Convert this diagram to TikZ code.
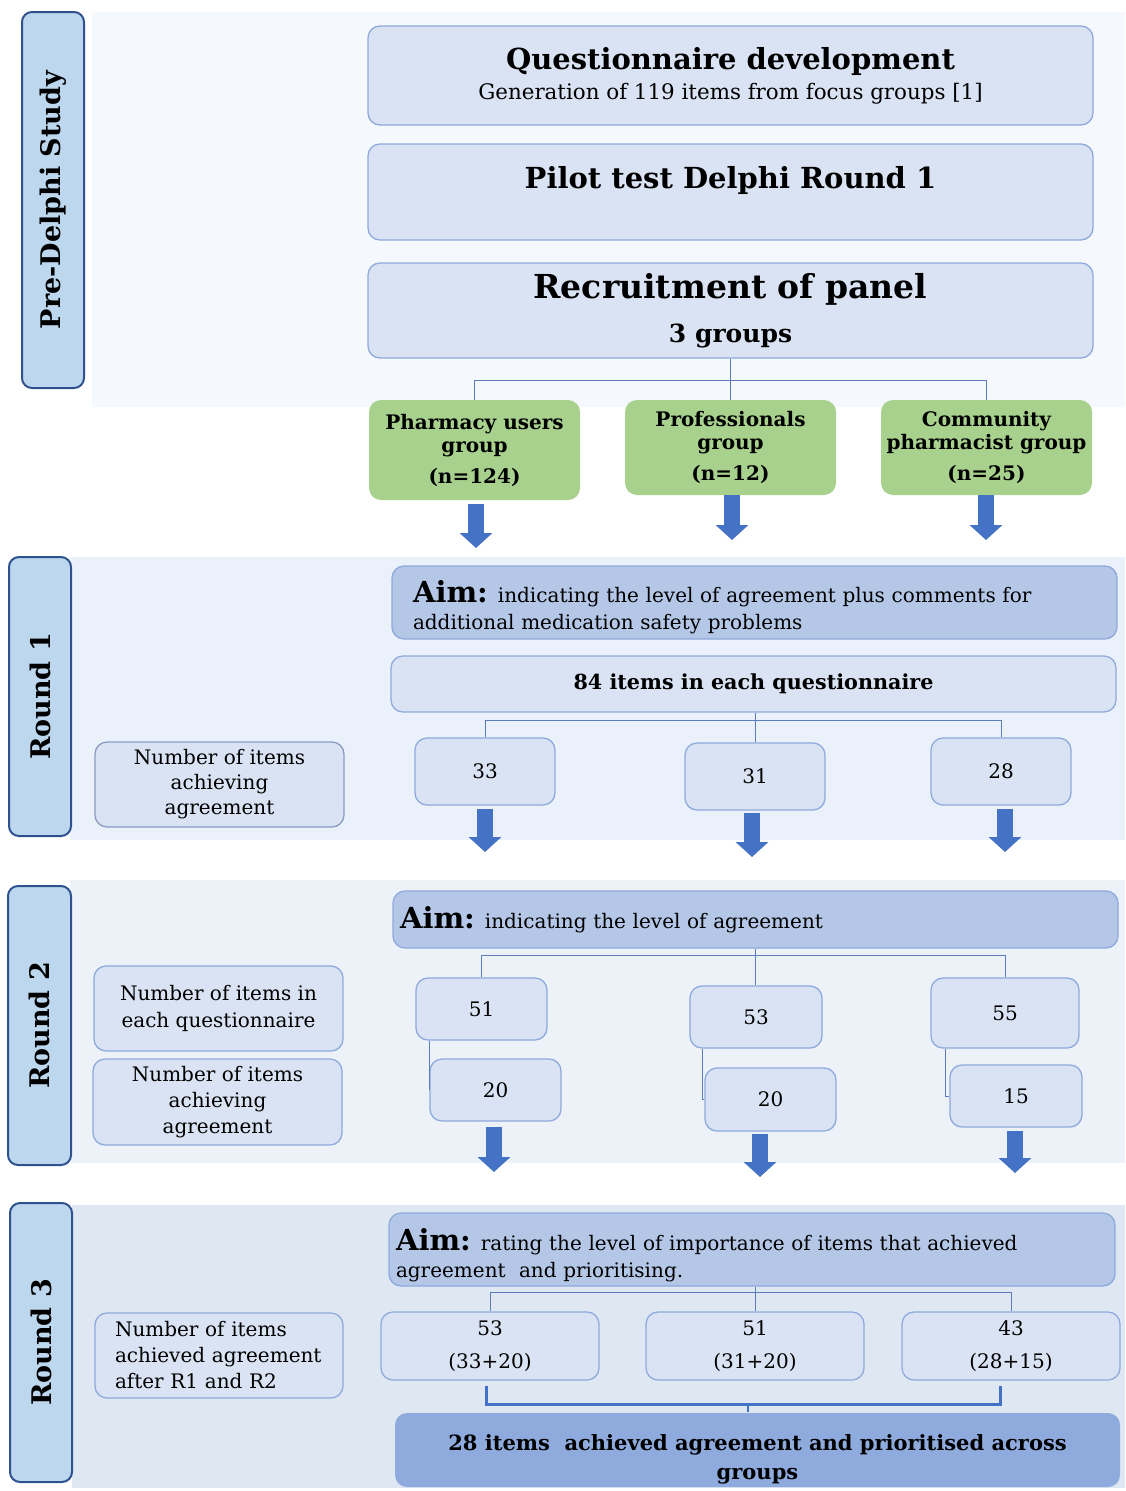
\documentclass[tikz,border=0pt]{standalone}
\usepackage{fontspec}
\setmainfont{DejaVu Serif}
\usetikzlibrary{arrows.meta}

\definecolor{labelfill}{HTML}{BDD7EE}
\definecolor{labelborder}{HTML}{2F528F}
\definecolor{boxfill}{HTML}{DAE3F3}
\definecolor{boxborder}{HTML}{8FAADC}
\definecolor{aimfill}{HTML}{B4C7E7}
\definecolor{groupgreen}{HTML}{A9D18E}
\definecolor{finalfill}{HTML}{8FAADC}
\definecolor{arrowblue}{HTML}{4472C4}
\definecolor{treeline}{HTML}{5B7DB9}
\definecolor{bgpre}{HTML}{F5F8FC}
\definecolor{bgone}{HTML}{EBF1FA}
\definecolor{bgtwo}{HTML}{EDF1F8}
\definecolor{bgthree}{HTML}{DFE7F3}

\newcommand{\fsz}[2]{\fontsize{#1}{#2}\selectfont}

\tikzstyle{stage} = [rectangle, rounded corners=10pt, draw=labelborder, line width=2pt, fill=labelfill, rotate=90, inner sep=0pt, font=\fsz{27}{32}\bfseries]
\tikzstyle{box} = [rectangle, rounded corners=12pt, draw=boxborder, line width=1.3pt, fill=boxfill, align=center, inner sep=0pt]
\tikzstyle{aimbox} = [box, fill=aimfill, align=left, inner xsep=8pt]
\tikzstyle{groupbox} = [rectangle, rounded corners=12pt, fill=groupgreen, align=center, inner sep=0pt, font=\fsz{20}{23}\bfseries]
\tikzstyle{tree} = [draw=treeline, line width=1pt]
\tikzstyle{bracket} = [draw=arrowblue, line width=3pt]
\tikzstyle{downarrow} = [draw=arrowblue, line width=16pt, -{Triangle[width=32pt 0, length=15pt 0]}]

\begin{document}
\begin{tikzpicture}[x=1pt, y=-1pt]
        \useasboundingbox (0,0) rectangle (1125,1491);

        % Background panels
        \fill[bgpre] (92,12) rectangle (1125,407);
        \fill[bgone] (70,557) rectangle (1125,840);
        \fill[bgtwo] (70,880) rectangle (1125,1163);
        \fill[bgthree] (72,1205) rectangle (1125,1488);

        % Stage labels on the left
        \node (preLabel) [stage, minimum width=376, minimum height=62] at (53,200) {Pre-Delphi Study};
        \node (oneLabel) [stage, minimum width=279, minimum height=62] at (40,696.5) {Round 1};
        \node (twoLabel) [stage, minimum width=279, minimum height=63] at (39.5,1025.5) {Round 2};
        \node (threeLabel) [stage, minimum width=279, minimum height=62] at (41,1342.5) {Round 3};

        % Pre-Delphi study
        \node (quest) [box, minimum width=725, minimum height=99, font=\fsz{21.4}{26}] at (730.5,75.5) {{\fsz{29}{30}\bfseries Questionnaire development}\\[4pt]Generation of 119 items from focus groups [1]};
        \node (pilot) [box, minimum width=725, minimum height=96, font=\fsz{29}{30}\bfseries, text height=22pt, text depth=30pt] at (730.5,192) {Pilot test Delphi Round 1};
        \node (recruit) [box, minimum width=725, minimum height=95, font=\fsz{25}{30}\bfseries] at (730.5,310.5) {{\fsz{33}{34}\selectfont Recruitment of panel}\\[14pt]3 groups};

        % Panel groups
        \node (pharm) [groupbox, minimum width=211, minimum height=100] at (474.5,450) {Pharmacy users\\group\\[8pt](n=124)};
        \node (prof) [groupbox, minimum width=211, minimum height=95] at (730.5,447.5) {Professionals\\group\\[8pt](n=12)};
        \node (comm) [groupbox, minimum width=211, minimum height=95] at (986.5,447.5) {Community\\pharmacist group\\[8pt](n=25)};

        \coordinate (splitPre) at (730.5,380);
        \draw [tree] (recruit.south) -- (splitPre);
        \draw [tree] (splitPre) -| (pharm.north);
        \draw [tree] (splitPre) -- (prof.north);
        \draw [tree] (splitPre) -| (comm.north);

        \coordinate (pharmEnd) at (476,548);
        \coordinate (profEnd) at (732,540);
        \coordinate (commEnd) at (986,540);
        \draw [downarrow, shorten <=4pt] (pharm.south -| pharmEnd) -- (pharmEnd);
        \draw [downarrow] (prof.south -| profEnd) -- (profEnd);
        \draw [downarrow] (comm.south -| commEnd) -- (commEnd);

        % Round 1
        \node (aimOne) [aimbox, minimum width=725, minimum height=73, text width=683, font=\fsz{20}{27}] at (754.5,602.5) {\rule{0pt}{32pt}{\fsz{29}{30}\bfseries Aim:} indicating the level of agreement plus comments for\\additional medication safety problems};
        \node (itemsOne) [box, minimum width=725, minimum height=56, font=\fsz{20.7}{24}\bfseries] at (753.5,684) {84 items in each questionnaire};
        \node (labelOne) [box, draw=boxborder!70!gray, minimum width=249, minimum height=85, font=\fsz{20}{25}] at (219.5,784.5) {Number of items\\achieving\\agreement};

        \node (oneA) [box, minimum width=140, minimum height=67, font=\fsz{20}{24}] at (485,771.5) {33};
        \node (oneB) [box, minimum width=140, minimum height=67, font=\fsz{20}{24}] at (755,776.5) {31};
        \node (oneC) [box, minimum width=140, minimum height=67, font=\fsz{20}{24}] at (1001,771.5) {28};

        \coordinate (splitOne) at (755,720);
        \draw [tree] (itemsOne.south -| splitOne) -- (splitOne);
        \draw [tree] (splitOne) -| (oneA.north);
        \draw [tree] (splitOne) -- (oneB.north);
        \draw [tree] (splitOne) -| (oneC.north);

        \coordinate (oneAEnd) at (485,852);
        \coordinate (oneBEnd) at (752,857);
        \coordinate (oneCEnd) at (1005,852);
        \draw [downarrow, shorten <=3pt] (oneA.south -| oneAEnd) -- (oneAEnd);
        \draw [downarrow, shorten <=2pt] (oneB.south -| oneBEnd) -- (oneBEnd);
        \draw [downarrow, shorten <=3pt] (oneC.south -| oneCEnd) -- (oneCEnd);

        % Round 2
        \node (aimTwo) [aimbox, minimum width=725, minimum height=57, text width=711, inner xsep=7pt, font=\fsz{20}{27}] at (755.5,919.5) {{\fsz{29}{30}\bfseries Aim:} indicating the level of agreement};
        \node (labelTwoA) [box, minimum width=249, minimum height=85, font=\fsz{20}{27}] at (218.5,1008.5) {Number of items in\\each questionnaire};
        \node (labelTwoB) [box, minimum width=249, minimum height=86, font=\fsz{20}{26}] at (217.5,1102) {Number of items\\achieving\\agreement};

        \node (twoA) [box, minimum width=131, minimum height=62, font=\fsz{20}{24}] at (481.5,1009) {51};
        \node (twoB) [box, minimum width=132, minimum height=62, font=\fsz{20}{24}] at (756,1017) {53};
        \node (twoC) [box, minimum width=148, minimum height=70, font=\fsz{20}{24}] at (1005,1013) {55};
        \node (twoAD) [box, minimum width=131, minimum height=62, font=\fsz{20}{24}] at (495.5,1090) {20};
        \node (twoBD) [box, minimum width=131, minimum height=63, font=\fsz{20}{24}] at (770.5,1099.5) {20};
        \node (twoCD) [box, minimum width=132, minimum height=62, font=\fsz{20}{24}] at (1016,1096) {15};

        \coordinate (splitTwo) at (755.5,955);
        \draw [tree] (aimTwo.south) -- (splitTwo);
        \draw [tree] (splitTwo) -| (twoA.north);
        \draw [tree] (splitTwo) -- (twoB.north -| splitTwo);
        \draw [tree] (splitTwo) -| (twoC.north);
        \draw [tree] ([xshift=14pt]twoA.south west) |- (twoAD.west);
        \draw [tree] ([xshift=13pt]twoB.south west) |- (twoBD.west);
        \draw [tree] ([xshift=15pt]twoC.south west) |- (twoCD.west);

        \coordinate (twoAEnd) at (494,1172);
        \coordinate (twoBEnd) at (760,1177);
        \coordinate (twoCEnd) at (1015,1173);
        \draw [downarrow, shorten <=5pt] (twoAD.south -| twoAEnd) -- (twoAEnd);
        \draw [downarrow, shorten <=2pt] (twoBD.south -| twoBEnd) -- (twoBEnd);
        \draw [downarrow, shorten <=3pt] (twoCD.south -| twoCEnd) -- (twoCEnd);

        % Round 3
        \node (aimThree) [aimbox, minimum width=726, minimum height=73, text width=712, inner xsep=7pt, font=\fsz{20}{27}] at (752,1249.5) {\rule{0pt}{34pt}{\fsz{29}{30}\bfseries Aim:} rating the level of importance of items that achieved\\agreement\ \ and prioritising.};
        \node (labelThree) [box, minimum width=248, minimum height=85, text width=208, align=left, inner xsep=20pt, font=\fsz{20}{26}] at (219,1355.5) {Number of items\\achieved agreement\\after R1 and R2};

        \node (threeA) [box, minimum width=218, minimum height=68, font=\fsz{20}{33}] at (490,1346) {53\\(33+20)};
        \node (threeB) [box, minimum width=218, minimum height=68, font=\fsz{20}{33}] at (755,1346) {51\\(31+20)};
        \node (threeC) [box, minimum width=218, minimum height=68, font=\fsz{20}{33}] at (1011,1346) {43\\(28+15)};

        \coordinate (splitThree) at (755,1292);
        \draw [tree] (aimThree.south -| splitThree) -- (splitThree);
        \draw [tree] (splitThree) -| (threeA.north);
        \draw [tree] (splitThree) -- (threeB.north);
        \draw [tree] (splitThree) -| (threeC.north);

        \node (final) [box, draw=none, fill=finalfill, minimum width=725, minimum height=74, font=\fsz{21}{29}\bfseries] at (757.5,1450) {\rule{0pt}{34pt}28 items\ \ achieved agreement and prioritised across\\groups};

        \coordinate (joinThree) at (748,1404);
        \draw [bracket] ([yshift=-5pt]threeA.south -| 486,0) |- (joinThree) -| ([yshift=-5pt]threeC.south -| 1000,0);
        \draw [tree, line width=1.5pt, draw=arrowblue] (joinThree) -- (joinThree |- final.north);

    \end{tikzpicture}
\end{document}
